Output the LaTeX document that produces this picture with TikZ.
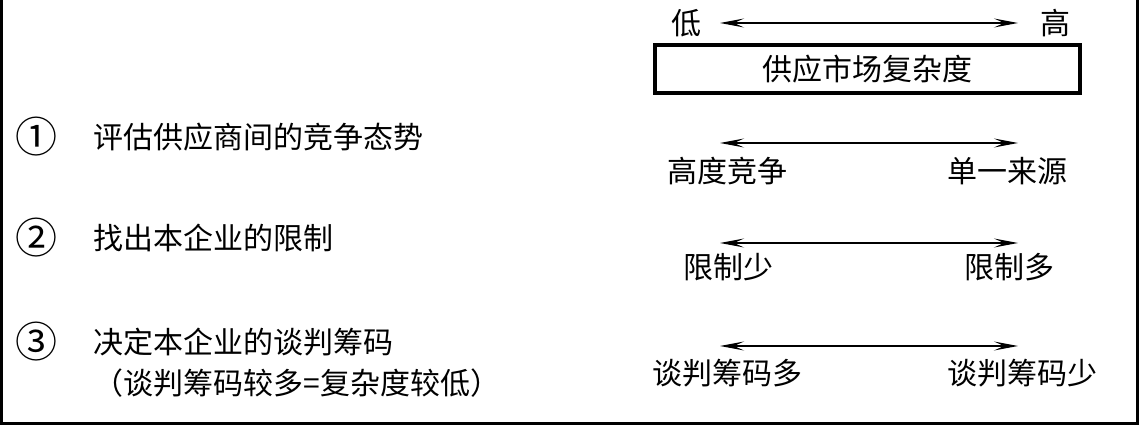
\documentclass[tikz,border=0pt]{standalone}
\usepackage{fontspec}
\setmainfont{Noto Sans CJK SC}
\usetikzlibrary{arrows.meta, positioning}

\begin{document}
\begin{tikzpicture}[
    x=0.5pt, y=-0.5pt,
    font=\fontsize{15pt}{18pt}\selectfont,
    num/.style={inner sep=0pt, font=\fontsize{21pt}{24pt}\selectfont},
    item/.style={inner sep=0pt, anchor=west},
    lbl/.style={inner sep=0pt},
    scalebox/.style={draw, line width=1.8pt, minimum width=212.5pt,
                     minimum height=24pt, inner sep=0pt},
    biarrow/.style={{Stealth[length=12pt, width=4.5pt, inset=5pt]}-{Stealth[length=12pt, width=4.5pt, inset=5pt]},
                    line width=0.6pt},
    frame/.style={line width=1.5pt}
]
\useasboundingbox (0,0) rectangle (1141,426);

% --- Outer frame (open at top) ---
\draw[frame] (1.5,0) -- (1.5,423.5) -- (1137.5,423.5) -- (1137.5,0);

% --- Complexity scale ---
\node[lbl] (lo) at (686,23) {低};
\node[lbl] (hi) at (1055,23) {高};
\coordinate (s0l) at (720,23);
\coordinate (s0r) at (1018,23);
\draw[biarrow] (s0l) -- (s0r);
\node[scalebox] (scale) at (867.5,69) {供应市场复杂度};

% --- Step 1 ---
\node[num] (n1) at (37,137) {①};
\node[item] (t1) at (93,137) {评估供应商间的竞争态势};
\coordinate (s1l) at (720,143);
\coordinate (s1r) at (1018,143);
\draw[biarrow] (s1l) -- (s1r);
\node[lbl] (l1a) at (727.5,171) {高度竞争};
\node[lbl] (l1b) at (1007,171) {单一来源};

% --- Step 2 ---
\node[num] (n2) at (37,238) {②};
\node[item] (t2) at (93,238) {找出本企业的限制};
\coordinate (s2l) at (720,243);
\coordinate (s2r) at (1018,243);
\draw[biarrow] (s2l) -- (s2r);
\node[lbl] (l2a) at (728,267) {限制少};
\node[lbl] (l2b) at (1009,267) {限制多};

% --- Step 3 ---
\node[num] (n3) at (37,342) {③};
\node[item] (t3) at (93,342) {决定本企业的谈判筹码};
\node[item] (t3b) at (t3.west |- 0,383) {（谈判筹码较多=复杂度较低）};
\coordinate (s3l) at (720,346);
\coordinate (s3r) at (1018,346);
\draw[biarrow] (s3l) -- (s3r);
\node[lbl] (l3a) at (727.5,373) {谈判筹码多};
\node[lbl] (l3b) at (1022.5,373) {谈判筹码少};

\end{tikzpicture}
\end{document}
